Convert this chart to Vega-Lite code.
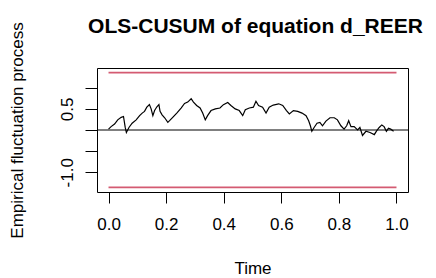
{
  "$schema": "https://vega.github.io/schema/vega-lite/v6.json",
  "autosize": {"type": "none"},
  "padding": {"left": 97, "top": 68, "right": 28, "bottom": 86},
  "width": 311,
  "height": 124,
  "background": "white",
  "config": {
    "font": "Liberation Sans",
    "view": {"stroke": "black", "strokeWidth": 1},
    "axis": {"grid": false, "domain": false, "tickColor": "black", "labelColor": "black", "titleColor": "black", "labelFont": "Liberation Sans", "titleFont": "Liberation Sans", "titleFontWeight": "normal", "labelOverlap": false},
    "axisY": {"tickSize": 12, "labelPadding": 13, "labelAngle": -90, "labelAlign": "center", "labelBaseline": "alphabetic", "labelFontSize": 17,
      "titleFontSize": 17, "titleAngle": -90, "titleX": -75, "titleY": 62, "titleAlign": "center", "titleBaseline": "alphabetic"}
  },
  "title": {
    "text": "OLS-CUSUM of equation d_REER",
    "font": "Liberation Sans",
    "fontSize": 21,
    "fontWeight": "bold",
    "color": "black",
    "anchor": "middle",
    "baseline": "alphabetic",
    "offset": -32,
    "dx": 3
  },
  "datasets": {
    "process": [
      {"t": 0.0, "v": 0.02}, {"t": 0.009, "v": 0.08}, {"t": 0.021, "v": 0.14}, {"t": 0.032, "v": 0.24},
      {"t": 0.044, "v": 0.3}, {"t": 0.052, "v": 0.32}, {"t": 0.058, "v": 0.06}, {"t": 0.062, "v": -0.06},
      {"t": 0.071, "v": 0.06}, {"t": 0.082, "v": 0.16}, {"t": 0.096, "v": 0.24}, {"t": 0.108, "v": 0.34},
      {"t": 0.117, "v": 0.4}, {"t": 0.125, "v": 0.44}, {"t": 0.133, "v": 0.54}, {"t": 0.142, "v": 0.6},
      {"t": 0.148, "v": 0.5}, {"t": 0.154, "v": 0.34}, {"t": 0.16, "v": 0.46}, {"t": 0.168, "v": 0.55},
      {"t": 0.175, "v": 0.6}, {"t": 0.179, "v": 0.44}, {"t": 0.186, "v": 0.36}, {"t": 0.195, "v": 0.29},
      {"t": 0.206, "v": 0.18}, {"t": 0.212, "v": 0.22}, {"t": 0.223, "v": 0.3}, {"t": 0.237, "v": 0.4},
      {"t": 0.252, "v": 0.52}, {"t": 0.264, "v": 0.63}, {"t": 0.275, "v": 0.66}, {"t": 0.287, "v": 0.74},
      {"t": 0.295, "v": 0.66}, {"t": 0.306, "v": 0.58}, {"t": 0.318, "v": 0.52}, {"t": 0.327, "v": 0.4},
      {"t": 0.336, "v": 0.24}, {"t": 0.344, "v": 0.34}, {"t": 0.356, "v": 0.46}, {"t": 0.371, "v": 0.5},
      {"t": 0.387, "v": 0.52}, {"t": 0.399, "v": 0.6}, {"t": 0.414, "v": 0.65}, {"t": 0.425, "v": 0.58},
      {"t": 0.44, "v": 0.5}, {"t": 0.454, "v": 0.46}, {"t": 0.466, "v": 0.34}, {"t": 0.475, "v": 0.48},
      {"t": 0.489, "v": 0.52}, {"t": 0.503, "v": 0.54}, {"t": 0.512, "v": 0.68}, {"t": 0.521, "v": 0.58},
      {"t": 0.535, "v": 0.54}, {"t": 0.547, "v": 0.4}, {"t": 0.558, "v": 0.54}, {"t": 0.572, "v": 0.59},
      {"t": 0.591, "v": 0.62}, {"t": 0.605, "v": 0.58}, {"t": 0.618, "v": 0.46}, {"t": 0.628, "v": 0.38},
      {"t": 0.642, "v": 0.46}, {"t": 0.657, "v": 0.44}, {"t": 0.672, "v": 0.4}, {"t": 0.686, "v": 0.34},
      {"t": 0.695, "v": 0.22}, {"t": 0.701, "v": 0.1}, {"t": 0.706, "v": -0.03}, {"t": 0.714, "v": 0.06},
      {"t": 0.724, "v": 0.16}, {"t": 0.734, "v": 0.18}, {"t": 0.743, "v": 0.1}, {"t": 0.755, "v": 0.21},
      {"t": 0.769, "v": 0.29}, {"t": 0.784, "v": 0.29}, {"t": 0.795, "v": 0.24}, {"t": 0.807, "v": 0.1},
      {"t": 0.818, "v": 0.02}, {"t": 0.827, "v": 0.1}, {"t": 0.834, "v": 0.22}, {"t": 0.842, "v": 0.08},
      {"t": 0.853, "v": 0.08}, {"t": 0.865, "v": 0.0}, {"t": 0.873, "v": 0.06}, {"t": 0.882, "v": -0.13},
      {"t": 0.894, "v": -0.03}, {"t": 0.908, "v": -0.06}, {"t": 0.923, "v": -0.11}, {"t": 0.931, "v": -0.02},
      {"t": 0.94, "v": 0.06}, {"t": 0.949, "v": 0.12}, {"t": 0.957, "v": 0.08}, {"t": 0.965, "v": -0.03},
      {"t": 0.972, "v": 0.04}, {"t": 0.98, "v": 0.02}, {"t": 0.99, "v": -0.03}
    ],
    "bounds": [
      {"t0": 0, "t1": 1, "b": 1.358},
      {"t0": 0, "t1": 1, "b": -1.358}
    ],
    "zero": [{"z": 0}]
  },
  "layer": [
    {
      "data": {"name": "zero"},
      "mark": {"type": "rule", "color": "black", "strokeWidth": 1},
      "encoding": {
        "y": {"field": "z", "type": "quantitative", "scale": {"domain": [-1.467, 1.467], "nice": false, "zero": false},
          "axis": {"values": [-1, -0.5, 0, 0.5, 1], "tickCount": 6, "labelExpr": "datum.value == 0.5 ? '0.5' : (datum.value == -1 ? '-1.0' : '')", "title": "Empirical fluctuation process"}}
      }
    },
    {
      "data": {"name": "bounds"},
      "mark": {"type": "rule", "color": "#D45B72", "strokeWidth": 1.6},
      "encoding": {
        "x": {"field": "t0", "type": "quantitative"},
        "x2": {"field": "t1"},
        "y": {"field": "b", "type": "quantitative",
          "axis": {"values": [-1, -0.5, 0, 0.5, 1], "tickCount": 6, "labelExpr": "datum.value == 0.5 ? '0.5' : (datum.value == -1 ? '-1.0' : '')", "title": "Empirical fluctuation process"}}
      }
    },
    {
      "data": {"name": "process"},
      "mark": {"type": "line", "color": "black", "strokeWidth": 1.2},
      "encoding": {
        "x": {"field": "t", "type": "quantitative", "scale": {"domain": [-0.04, 1.04], "nice": false, "zero": false},
          "axis": {"values": [0, 0.2, 0.4, 0.6, 0.8, 1], "format": ".1f", "tickSize": 11, "labelPadding": 26, "labelBaseline": "alphabetic", "labelFontSize": 17,
            "title": "Time", "titleFontSize": 17, "titleY": 81, "titleBaseline": "alphabetic"}},
        "y": {"field": "v", "type": "quantitative",
          "axis": {"values": [-1, -0.5, 0, 0.5, 1], "tickCount": 6, "labelExpr": "datum.value == 0.5 ? '0.5' : (datum.value == -1 ? '-1.0' : '')", "title": "Empirical fluctuation process"}}
      }
    }
  ]
}
